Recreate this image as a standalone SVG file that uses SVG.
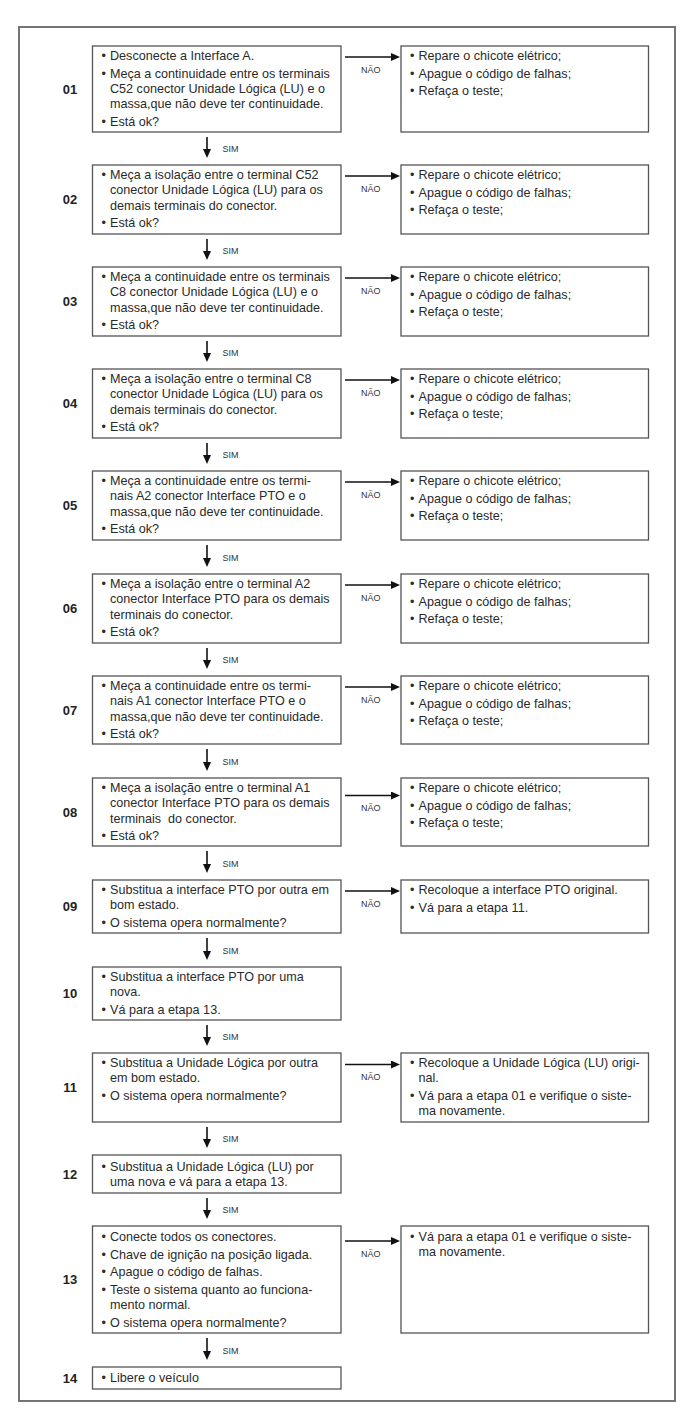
<svg xmlns="http://www.w3.org/2000/svg" width="695" height="1428" viewBox="0 0 695 1428">
<style>
.bg{fill:#ffffff}
.frame{fill:none;stroke:#666;stroke-width:1.8}
.box{fill:#fff;stroke:#555;stroke-width:1.3}
.t{font-family:"Liberation Sans",Arial,sans-serif;font-size:12.6px;fill:#2a2a2a}
.n{font-family:"Liberation Sans",Arial,sans-serif;font-size:13px;font-weight:bold;fill:#222;text-anchor:middle}
.l{font-family:"Liberation Sans",Arial,sans-serif;font-size:9px;fill:#333}
.c{stroke:#111;stroke-width:1.6;fill:none}
</style>
<defs>
<marker id="ah" markerUnits="userSpaceOnUse" markerWidth="10" markerHeight="10" refX="5" refY="4" orient="auto">
<path d="M0,0 L9,4 L0,8 z" fill="#111"/>
</marker>
</defs>
<rect class="bg" x="0" y="0" width="695" height="1428"/>
<rect class="frame" x="19" y="27" width="656" height="1374"/>

<g id="s01">
<rect class="box" x="92.5" y="46" width="248.5" height="86"/>
<text class="n" x="70" y="93.7">01</text>
<text class="t" x="101.5" y="60">•</text><text class="t" x="110" y="60">Desconecte a Interface A.</text>
<text class="t" x="101.5" y="77.7">•</text><text class="t" x="110" y="77.7">Meça a continuidade entre os terminais</text>
<text class="t" x="110" y="93">C52 conector Unidade Lógica (LU) e o</text>
<text class="t" x="110" y="108.3">massa,que não deve ter continuidade.</text>
<text class="t" x="101.5" y="126">•</text><text class="t" x="110" y="126">Está ok?</text>
</g>
<g id="r01">
<rect class="box" x="401" y="46" width="247.5" height="86"/>
<text class="t" x="410" y="60">•</text><text class="t" x="418.5" y="60">Repare o chicote elétrico;</text>
<text class="t" x="410" y="77.7">•</text><text class="t" x="418.5" y="77.7">Apague o código de falhas;</text>
<text class="t" x="410" y="95.4">•</text><text class="t" x="418.5" y="95.4">Refaça o teste;</text>
</g>

<g id="s02">
<rect class="box" x="92.5" y="165" width="248.5" height="69"/>
<text class="n" x="70" y="204.2">02</text>
<text class="t" x="101.5" y="179">•</text><text class="t" x="110" y="179">Meça a isolação entre o terminal C52</text>
<text class="t" x="110" y="194.3">conector Unidade Lógica (LU) para os</text>
<text class="t" x="110" y="209.6">demais terminais do conector.</text>
<text class="t" x="101.5" y="227.3">•</text><text class="t" x="110" y="227.3">Está ok?</text>
</g>
<g id="r02">
<rect class="box" x="401" y="165" width="247.5" height="69"/>
<text class="t" x="410" y="179">•</text><text class="t" x="418.5" y="179">Repare o chicote elétrico;</text>
<text class="t" x="410" y="196.7">•</text><text class="t" x="418.5" y="196.7">Apague o código de falhas;</text>
<text class="t" x="410" y="214.4">•</text><text class="t" x="418.5" y="214.4">Refaça o teste;</text>
</g>

<g id="s03">
<rect class="box" x="92.5" y="267" width="248.5" height="69"/>
<text class="n" x="70" y="306.2">03</text>
<text class="t" x="101.5" y="281">•</text><text class="t" x="110" y="281">Meça a continuidade entre os terminais</text>
<text class="t" x="110" y="296.3">C8 conector Unidade Lógica (LU) e o</text>
<text class="t" x="110" y="311.6">massa,que não deve ter continuidade.</text>
<text class="t" x="101.5" y="329.3">•</text><text class="t" x="110" y="329.3">Está ok?</text>
</g>
<g id="r03">
<rect class="box" x="401" y="267" width="247.5" height="69"/>
<text class="t" x="410" y="281">•</text><text class="t" x="418.5" y="281">Repare o chicote elétrico;</text>
<text class="t" x="410" y="298.7">•</text><text class="t" x="418.5" y="298.7">Apague o código de falhas;</text>
<text class="t" x="410" y="316.4">•</text><text class="t" x="418.5" y="316.4">Refaça o teste;</text>
</g>

<g id="s04">
<rect class="box" x="92.5" y="369" width="248.5" height="69"/>
<text class="n" x="70" y="408.2">04</text>
<text class="t" x="101.5" y="383">•</text><text class="t" x="110" y="383">Meça a isolação entre o terminal C8</text>
<text class="t" x="110" y="398.3">conector Unidade Lógica (LU) para os</text>
<text class="t" x="110" y="413.6">demais terminais do conector.</text>
<text class="t" x="101.5" y="431.3">•</text><text class="t" x="110" y="431.3">Está ok?</text>
</g>
<g id="r04">
<rect class="box" x="401" y="369" width="247.5" height="69"/>
<text class="t" x="410" y="383">•</text><text class="t" x="418.5" y="383">Repare o chicote elétrico;</text>
<text class="t" x="410" y="400.7">•</text><text class="t" x="418.5" y="400.7">Apague o código de falhas;</text>
<text class="t" x="410" y="418.4">•</text><text class="t" x="418.5" y="418.4">Refaça o teste;</text>
</g>

<g id="s05">
<rect class="box" x="92.5" y="471" width="248.5" height="69"/>
<text class="n" x="70" y="510.2">05</text>
<text class="t" x="101.5" y="485">•</text><text class="t" x="110" y="485">Meça a continuidade entre os termi-</text>
<text class="t" x="110" y="500.3">nais A2 conector Interface PTO e o</text>
<text class="t" x="110" y="515.6">massa,que não deve ter continuidade.</text>
<text class="t" x="101.5" y="533.3">•</text><text class="t" x="110" y="533.3">Está ok?</text>
</g>
<g id="r05">
<rect class="box" x="401" y="471" width="247.5" height="69"/>
<text class="t" x="410" y="485">•</text><text class="t" x="418.5" y="485">Repare o chicote elétrico;</text>
<text class="t" x="410" y="502.7">•</text><text class="t" x="418.5" y="502.7">Apague o código de falhas;</text>
<text class="t" x="410" y="520.4">•</text><text class="t" x="418.5" y="520.4">Refaça o teste;</text>
</g>

<g id="s06">
<rect class="box" x="92.5" y="574" width="248.5" height="69"/>
<text class="n" x="70" y="613.2">06</text>
<text class="t" x="101.5" y="588">•</text><text class="t" x="110" y="588">Meça a isolação entre o terminal A2</text>
<text class="t" x="110" y="603.3">conector Interface PTO para os demais</text>
<text class="t" x="110" y="618.6">terminais do conector.</text>
<text class="t" x="101.5" y="636.3">•</text><text class="t" x="110" y="636.3">Está ok?</text>
</g>
<g id="r06">
<rect class="box" x="401" y="574" width="247.5" height="69"/>
<text class="t" x="410" y="588">•</text><text class="t" x="418.5" y="588">Repare o chicote elétrico;</text>
<text class="t" x="410" y="605.7">•</text><text class="t" x="418.5" y="605.7">Apague o código de falhas;</text>
<text class="t" x="410" y="623.4">•</text><text class="t" x="418.5" y="623.4">Refaça o teste;</text>
</g>

<g id="s07">
<rect class="box" x="92.5" y="676" width="248.5" height="68"/>
<text class="n" x="70" y="714.7">07</text>
<text class="t" x="101.5" y="690">•</text><text class="t" x="110" y="690">Meça a continuidade entre os termi-</text>
<text class="t" x="110" y="705.3">nais A1 conector Interface PTO e o</text>
<text class="t" x="110" y="720.6">massa,que não deve ter continuidade.</text>
<text class="t" x="101.5" y="738.3">•</text><text class="t" x="110" y="738.3">Está ok?</text>
</g>
<g id="r07">
<rect class="box" x="401" y="676" width="247.5" height="68"/>
<text class="t" x="410" y="690">•</text><text class="t" x="418.5" y="690">Repare o chicote elétrico;</text>
<text class="t" x="410" y="707.7">•</text><text class="t" x="418.5" y="707.7">Apague o código de falhas;</text>
<text class="t" x="410" y="725.4">•</text><text class="t" x="418.5" y="725.4">Refaça o teste;</text>
</g>

<g id="s08">
<rect class="box" x="92.5" y="778" width="248.5" height="68"/>
<text class="n" x="70" y="816.7">08</text>
<text class="t" x="101.5" y="792">•</text><text class="t" x="110" y="792">Meça a isolação entre o terminal A1</text>
<text class="t" x="110" y="807.3">conector Interface PTO para os demais</text>
<text class="t" x="110" y="822.6" xml:space="preserve">terminais  do conector.</text>
<text class="t" x="101.5" y="840.3">•</text><text class="t" x="110" y="840.3">Está ok?</text>
</g>
<g id="r08">
<rect class="box" x="401" y="778" width="247.5" height="68"/>
<text class="t" x="410" y="792">•</text><text class="t" x="418.5" y="792">Repare o chicote elétrico;</text>
<text class="t" x="410" y="809.7">•</text><text class="t" x="418.5" y="809.7">Apague o código de falhas;</text>
<text class="t" x="410" y="827.4">•</text><text class="t" x="418.5" y="827.4">Refaça o teste;</text>
</g>

<g id="s09">
<rect class="box" x="92.5" y="880" width="248.5" height="53"/>
<text class="n" x="70" y="911.2">09</text>
<text class="t" x="101.5" y="894">•</text><text class="t" x="110" y="894">Substitua a interface PTO por outra em</text>
<text class="t" x="110" y="909.3">bom estado.</text>
<text class="t" x="101.5" y="927">•</text><text class="t" x="110" y="927">O sistema opera normalmente?</text>
</g>
<g id="r09">
<rect class="box" x="401" y="880" width="247.5" height="53"/>
<text class="t" x="410" y="894">•</text><text class="t" x="418.5" y="894">Recoloque a interface PTO original.</text>
<text class="t" x="410" y="911.7">•</text><text class="t" x="418.5" y="911.7">Vá para a etapa 11.</text>
</g>

<g id="s10">
<rect class="box" x="92.5" y="967" width="248.5" height="53"/>
<text class="n" x="70" y="998.2">10</text>
<text class="t" x="101.5" y="981">•</text><text class="t" x="110" y="981">Substitua a interface PTO por uma</text>
<text class="t" x="110" y="996.3">nova.</text>
<text class="t" x="101.5" y="1014">•</text><text class="t" x="110" y="1014">Vá para a etapa 13.</text>
</g>

<g id="s11">
<rect class="box" x="92.5" y="1053" width="248.5" height="69"/>
<text class="n" x="70" y="1092.2">11</text>
<text class="t" x="101.5" y="1067">•</text><text class="t" x="110" y="1067">Substitua a Unidade Lógica por outra</text>
<text class="t" x="110" y="1082.3">em bom estado.</text>
<text class="t" x="101.5" y="1100">•</text><text class="t" x="110" y="1100">O sistema opera normalmente?</text>
</g>
<g id="r11">
<rect class="box" x="401" y="1053" width="247.5" height="69"/>
<text class="t" x="410" y="1067">•</text><text class="t" x="418.5" y="1067">Recoloque a Unidade Lógica (LU) origi-</text>
<text class="t" x="418.5" y="1082.3">nal.</text>
<text class="t" x="410" y="1100">•</text><text class="t" x="418.5" y="1100">Vá para a etapa 01 e verifique o siste-</text>
<text class="t" x="418.5" y="1115.3">ma novamente.</text>
</g>

<g id="s12">
<rect class="box" x="92.5" y="1155" width="248.5" height="38"/>
<text class="n" x="70" y="1178.7">12</text>
<text class="t" x="101.5" y="1170.5">•</text><text class="t" x="110" y="1170.5">Substitua a Unidade Lógica (LU) por</text>
<text class="t" x="110" y="1185.8">uma nova e vá para a etapa 13.</text>
</g>

<g id="s13">
<rect class="box" x="92.5" y="1226" width="248.5" height="107"/>
<text class="n" x="70" y="1284.2">13</text>
<text class="t" x="101.5" y="1240.8">•</text><text class="t" x="110" y="1240.8">Conecte todos os conectores.</text>
<text class="t" x="101.5" y="1258.5">•</text><text class="t" x="110" y="1258.5">Chave de ignição na posição ligada.</text>
<text class="t" x="101.5" y="1276.2">•</text><text class="t" x="110" y="1276.2">Apague o código de falhas.</text>
<text class="t" x="101.5" y="1294">•</text><text class="t" x="110" y="1294">Teste o sistema quanto ao funciona-</text>
<text class="t" x="110" y="1309.3">mento normal.</text>
<text class="t" x="101.5" y="1327">•</text><text class="t" x="110" y="1327">O sistema opera normalmente?</text>
</g>
<g id="r13">
<rect class="box" x="401" y="1226" width="247.5" height="107"/>
<text class="t" x="410" y="1240.8">•</text><text class="t" x="418.5" y="1240.8">Vá para a etapa 01 e verifique o siste-</text>
<text class="t" x="418.5" y="1256">ma novamente.</text>
</g>

<g id="s14">
<rect class="box" x="92.5" y="1367" width="248.5" height="22"/>
<text class="n" x="70" y="1382.7">14</text>
<text class="t" x="101.5" y="1381.5">•</text><text class="t" x="110" y="1381.5">Libere o veículo</text>
</g>

<g id="connectors">
<g id="nao">
<line class="c" x1="345" y1="57" x2="396" y2="57" marker-end="url(#ah)"/>
<line class="c" x1="345" y1="176" x2="396" y2="176" marker-end="url(#ah)"/>
<line class="c" x1="345" y1="278" x2="396" y2="278" marker-end="url(#ah)"/>
<line class="c" x1="345" y1="380" x2="396" y2="380" marker-end="url(#ah)"/>
<line class="c" x1="345" y1="482" x2="396" y2="482" marker-end="url(#ah)"/>
<line class="c" x1="345" y1="585" x2="396" y2="585" marker-end="url(#ah)"/>
<line class="c" x1="345" y1="687" x2="396" y2="687" marker-end="url(#ah)"/>
<line class="c" x1="345" y1="795.5" x2="396" y2="795.5" marker-end="url(#ah)"/>
<line class="c" x1="345" y1="891" x2="396" y2="891" marker-end="url(#ah)"/>
<line class="c" x1="345" y1="1064.5" x2="396" y2="1064.5" marker-end="url(#ah)"/>
<line class="c" x1="345" y1="1241" x2="396" y2="1241" marker-end="url(#ah)"/>
<text class="l" x="361" y="72.5">NÃO</text>
<text class="l" x="361" y="191.5">NÃO</text>
<text class="l" x="361" y="293.5">NÃO</text>
<text class="l" x="361" y="395.5">NÃO</text>
<text class="l" x="361" y="497.5">NÃO</text>
<text class="l" x="361" y="600.5">NÃO</text>
<text class="l" x="361" y="702.5">NÃO</text>
<text class="l" x="361" y="811">NÃO</text>
<text class="l" x="361" y="906.5">NÃO</text>
<text class="l" x="361" y="1080">NÃO</text>
<text class="l" x="361" y="1256.5">NÃO</text>
</g>
<g id="sim">
<line class="c" x1="207" y1="137" x2="207" y2="154" marker-end="url(#ah)"/>
<line class="c" x1="207" y1="239" x2="207" y2="256" marker-end="url(#ah)"/>
<line class="c" x1="207" y1="341" x2="207" y2="358" marker-end="url(#ah)"/>
<line class="c" x1="207" y1="443" x2="207" y2="460" marker-end="url(#ah)"/>
<line class="c" x1="207" y1="545" x2="207" y2="563" marker-end="url(#ah)"/>
<line class="c" x1="207" y1="648" x2="207" y2="665" marker-end="url(#ah)"/>
<line class="c" x1="207" y1="749" x2="207" y2="767" marker-end="url(#ah)"/>
<line class="c" x1="207" y1="851" x2="207" y2="869" marker-end="url(#ah)"/>
<line class="c" x1="207" y1="938" x2="207" y2="956" marker-end="url(#ah)"/>
<line class="c" x1="207" y1="1025" x2="207" y2="1042" marker-end="url(#ah)"/>
<line class="c" x1="207" y1="1127" x2="207" y2="1144" marker-end="url(#ah)"/>
<line class="c" x1="207" y1="1198" x2="207" y2="1215" marker-end="url(#ah)"/>
<line class="c" x1="207" y1="1338" x2="207" y2="1356" marker-end="url(#ah)"/>
<text class="l" x="222.5" y="152">SIM</text>
<text class="l" x="222.5" y="254">SIM</text>
<text class="l" x="222.5" y="356">SIM</text>
<text class="l" x="222.5" y="458">SIM</text>
<text class="l" x="222.5" y="560.5">SIM</text>
<text class="l" x="222.5" y="663">SIM</text>
<text class="l" x="222.5" y="764.5">SIM</text>
<text class="l" x="222.5" y="866.5">SIM</text>
<text class="l" x="222.5" y="953.5">SIM</text>
<text class="l" x="222.5" y="1040">SIM</text>
<text class="l" x="222.5" y="1142">SIM</text>
<text class="l" x="222.5" y="1213">SIM</text>
<text class="l" x="222.5" y="1353.5">SIM</text>
</g>
</g>
</svg>
